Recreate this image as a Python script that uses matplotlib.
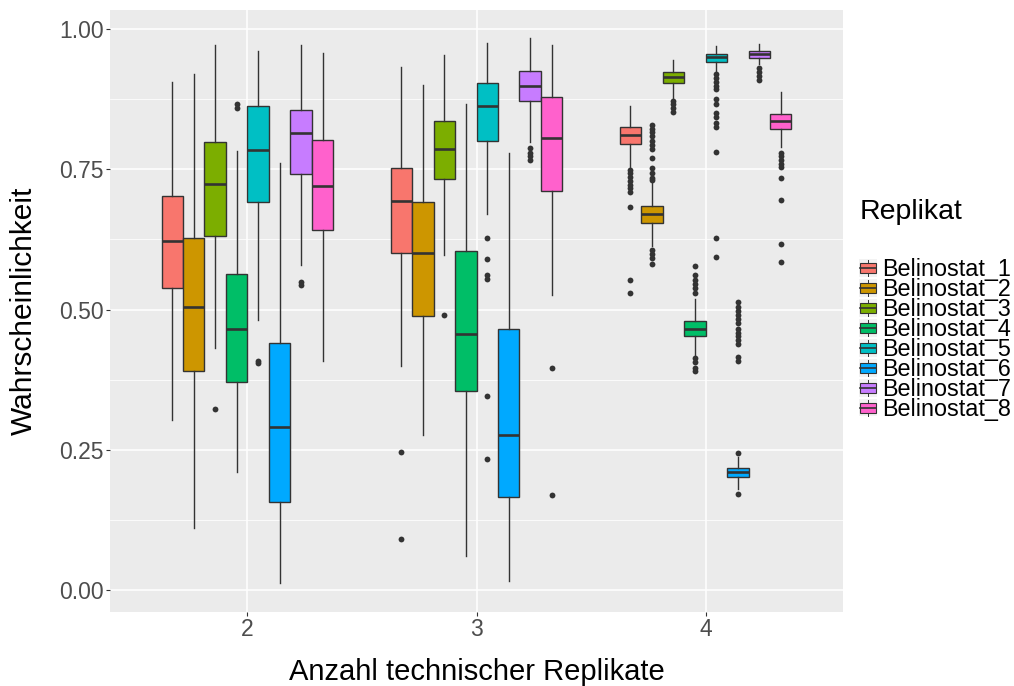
import matplotlib
matplotlib.use('Agg')
import matplotlib.pyplot as plt
from matplotlib.patches import Rectangle, Patch
from matplotlib.lines import Line2D
from matplotlib.legend_handler import HandlerBase

plt.rcParams['font.family'] = ['Liberation Sans', 'DejaVu Sans']

groups = ['2', '3', '4']
series = ['Belinostat_1', 'Belinostat_2', 'Belinostat_3', 'Belinostat_4',
          'Belinostat_5', 'Belinostat_6', 'Belinostat_7', 'Belinostat_8']
colors = ['#F8766D', '#CD9600', '#7CAE00', '#00BE67',
          '#00BFC4', '#00A9FF', '#C77CFF', '#FF61CC']

# rows = groups (2, 3, 4), columns = Belinostat_1 .. Belinostat_8
q1 = [
    [0.538, 0.390, 0.631, 0.370, 0.691, 0.156, 0.741, 0.642],
    [0.601, 0.488, 0.733, 0.355, 0.801, 0.165, 0.872, 0.711],
    [0.795, 0.655, 0.904, 0.453, 0.941, 0.202, 0.948, 0.822],
]
median = [
    [0.623, 0.504, 0.724, 0.465, 0.784, 0.291, 0.814, 0.721],
    [0.694, 0.601, 0.787, 0.457, 0.863, 0.277, 0.899, 0.805],
    [0.811, 0.670, 0.915, 0.466, 0.950, 0.210, 0.955, 0.836],
]
q3 = [
    [0.702, 0.627, 0.799, 0.563, 0.862, 0.440, 0.855, 0.803],
    [0.753, 0.691, 0.836, 0.604, 0.904, 0.465, 0.926, 0.878],
    [0.825, 0.685, 0.924, 0.479, 0.956, 0.218, 0.960, 0.848],
]
whisker_low = [
    [0.303, 0.111, 0.431, 0.211, 0.481, 0.012, 0.580, 0.408],
    [0.400, 0.277, 0.597, 0.060, 0.671, 0.016, 0.799, 0.526],
    [0.754, 0.613, 0.876, 0.418, 0.925, 0.180, 0.937, 0.789],
]
whisker_high = [
    [0.906, 0.919, 0.972, 0.782, 0.960, 0.762, 0.972, 0.958],
    [0.932, 0.900, 0.954, 0.867, 0.975, 0.779, 0.984, 0.972],
    [0.863, 0.727, 0.945, 0.519, 0.970, 0.237, 0.973, 0.887],
]
outliers = [
    [[], [], [0.322], [0.867, 0.860], [0.408, 0.404], [], [0.549, 0.543], []],
    [[0.246, 0.091], [], [0.491], [],
     [0.628, 0.590, 0.562, 0.554, 0.346, 0.234], [],
     [0.788, 0.779, 0.773, 0.767], [0.395, 0.170]],
    [[0.749, 0.743, 0.736, 0.729, 0.722, 0.717, 0.709, 0.683, 0.552, 0.530],
     [0.829, 0.822, 0.816, 0.809, 0.801, 0.793, 0.787, 0.770, 0.752, 0.743,
      0.735, 0.730, 0.606, 0.599, 0.592, 0.582],
     [0.872, 0.866, 0.859, 0.852],
     [0.578, 0.562, 0.553, 0.545, 0.538, 0.530, 0.413, 0.407, 0.396, 0.390],
     [0.920, 0.913, 0.906, 0.899, 0.893, 0.876, 0.866, 0.850, 0.843, 0.832,
      0.825, 0.781, 0.627, 0.594],
     [0.513, 0.504, 0.497, 0.490, 0.483, 0.476, 0.466, 0.459, 0.453, 0.446,
      0.439, 0.415, 0.408, 0.244, 0.172],
     [0.930, 0.924, 0.917, 0.910],
     [0.779, 0.773, 0.766, 0.760, 0.754, 0.734, 0.696, 0.616, 0.585]],
]

EDGE = '#333333'

fig = plt.figure(figsize=(10.14, 6.86), dpi=100)
ax = fig.add_axes([110 / 1014, 74 / 686, 733 / 1014, 602 / 686])
ax.set_facecolor('#EBEBEB')

dodge = 0.75 / len(series)
for s, name in enumerate(series):
    stats = []
    pos = []
    for g in range(len(groups)):
        stats.append(dict(med=median[g][s], q1=q1[g][s], q3=q3[g][s],
                          whislo=whisker_low[g][s], whishi=whisker_high[g][s],
                          fliers=outliers[g][s]))
        pos.append(g + 1 + (s - 3.5) * dodge)
    bp = ax.bxp(stats, positions=pos, widths=dodge, patch_artist=True,
                showcaps=False, manage_ticks=False,
                boxprops=dict(facecolor=colors[s], edgecolor=EDGE, linewidth=1.0),
                whiskerprops=dict(color=EDGE, linewidth=1.0),
                medianprops=dict(color=EDGE, linewidth=1.9),
                flierprops=dict(marker='o', markersize=4.2, markerfacecolor=EDGE,
                                markeredgecolor='none'))

ax.set_xlim(0.4, 3.6)
ax.set_ylim(-0.0392, 1.0339)
ax.set_xticks([1, 2, 3])
ax.set_xticklabels(groups)
ax.set_yticks([0, 0.25, 0.5, 0.75, 1.0])
ax.set_yticklabels(['0.00', '0.25', '0.50', '0.75', '1.00'])
ax.set_yticks([0.125, 0.375, 0.625, 0.875], minor=True)
ax.grid(True, which='major', color='white', linewidth=1.1)
ax.grid(True, which='minor', axis='y', color='white', linewidth=0.55)
ax.set_axisbelow(True)
for sp in ax.spines.values():
    sp.set_visible(False)
ax.tick_params(axis='both', which='major', length=3, width=0.8, color=EDGE,
               labelcolor='#4D4D4D', labelsize=16.5)
ax.tick_params(axis='x', pad=1.5)
ax.tick_params(axis='y', pad=1.5)
ax.tick_params(which='minor', length=0)

fig.text(24 / 1014, 1 - 311 / 686, 'Wahrscheinlichkeit', rotation=90,
         ha='center', va='center', fontsize=21.5)
fig.text(477 / 1014, 1 - 680 / 686, 'Anzahl technischer Replikate',
         ha='center', va='baseline', fontsize=21)
fig.text(860 / 1014, 1 - 219 / 686, 'Replikat', ha='left', va='baseline',
         fontsize=20.5)


class BoxKey(HandlerBase):
    def create_artists(self, legend, orig_handle, xdescent, ydescent,
                       width, height, fontsize, trans):
        x0, y0 = -xdescent, -ydescent
        bg = Rectangle((x0, y0), width, height, facecolor='#F2F2F2',
                       edgecolor='none', transform=trans)
        cx = x0 + width / 2
        wl = Line2D([cx, cx], [y0 + 0.05 * height, y0 + 0.95 * height],
                    color=EDGE, lw=0.7, transform=trans)
        box = Rectangle((x0 + 0.08 * width, y0 + 0.22 * height), 0.84 * width,
                        0.56 * height, facecolor=orig_handle.get_facecolor(),
                        edgecolor=EDGE, lw=0.8, transform=trans)
        med = Line2D([x0 + 0.08 * width, x0 + 0.92 * width],
                     [y0 + height / 2] * 2, color=EDGE, lw=1.2, transform=trans)
        return [bg, wl, box, med]


handles = [Patch(facecolor=c) for c in colors]
fs = 16.8
fs_px = fs * 100 / 72
fig.legend(handles, series, handler_map={Patch: BoxKey()},
           loc='center left', bbox_to_anchor=(859 / 1014, 1 - 339.5 / 686),
           frameon=False, borderpad=0, borderaxespad=0, fontsize=fs,
           handlelength=18 / fs_px, handleheight=18 / fs_px,
           handletextpad=5 / fs_px, labelspacing=-0.13)

fig.savefig('out.png', dpi=100)
